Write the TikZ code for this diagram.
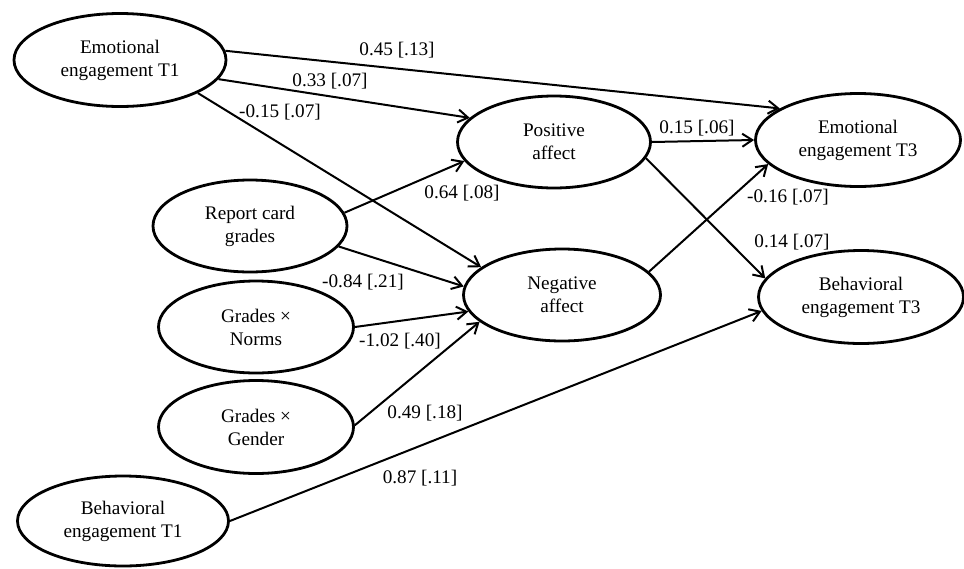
\documentclass[tikz,border=0pt]{standalone}
\usepackage{fontspec}
\setmainfont{Liberation Serif}
\usetikzlibrary{shapes.geometric,arrows.meta}
\begin{document}
\begin{tikzpicture}[x=1pt,y=-1pt,
  var/.style={ellipse,draw,line width=2.8pt,inner sep=0pt,align=center,
    font=\fontsize{19.2}{23}\selectfont},
  arr/.style={line width=2pt,-{Straight Barb[length=10pt,width=13pt]}},
  lbl/.style={inner sep=0pt,font=\fontsize{19.2}{23}\selectfont}]
\useasboundingbox (0,0) rectangle (964,568);
% variables
\node[var,minimum width=212pt,minimum height=93pt] (ee1) at (120,60) {Emotional\\engagement T1};
\node[var,minimum width=194pt,minimum height=92pt] (rcg) at (250,226) {Report card\\grades};
\node[var,minimum width=195pt,minimum height=92pt] (gn) at (256,327) {Grades ×\\Norms};
\node[var,minimum width=195pt,minimum height=93pt] (gg) at (256,427) {Grades ×\\Gender};
\node[var,minimum width=211pt,minimum height=90pt] (be1) at (123,521) {Behavioral\\engagement T1};
\node[var,minimum width=193pt,minimum height=92pt] (pa) at (554,142) {Positive\\affect};
\node[var,minimum width=197pt,minimum height=92pt] (na) at (562,295) {Negative\\affect};
\node[var,minimum width=205pt,minimum height=93pt] (ee3) at (858,140) {Emotional\\engagement T3};
\node[var,minimum width=205pt,minimum height=93pt] (be3) at (861,297) {Behavioral\\engagement T3};
% paths
\draw[arr] (ee1.5.3) -- (ee3.158.8);
\draw[arr] (ee1.-11.2) -- (pa.164.6);
\draw[arr] (ee1.-23.8) -- (na.161.1);
\draw[arr] (rcg.8.2) -- (pa.192.4);
\draw[arr] (rcg.-13.4) -- (na.175.4);
\draw[arr] (gn.0) -- (na.190.1);
\draw[arr] (gg.1) -- (na.198.2);
\draw[arr] (be1.0) -- (be3.188.4);
\draw[arr] (pa.0) -- (ee3.180);
\draw[arr] (pa.-10.4) -- (be3.169.2);
\draw[arr] (na.15.9) -- (ee3.195.1);
% labels
\node[lbl] (l1) at (397,50) {0.45 [.13]};
\node[lbl] (l2) at (330,81) {0.33 [.07]};
\node[lbl] (l3) at (280,112) {-0.15 [.07]};
\node[lbl] (l4) at (462,193) {0.64 [.08]};
\node[lbl] (l5) at (363,282) {-0.84 [.21]};
\node[lbl] (l6) at (400,341) {-1.02 [.40]};
\node[lbl] (l7) at (425,413) {0.49 [.18]};
\node[lbl] (l8) at (420,478) {0.87 [.11]};
\node[lbl] (l9) at (697,128) {0.15 [.06]};
\node[lbl] (l10) at (792,242) {0.14 [.07]};
\node[lbl] (l11) at (788,197) {-0.16 [.07]};
\end{tikzpicture}
\end{document}
